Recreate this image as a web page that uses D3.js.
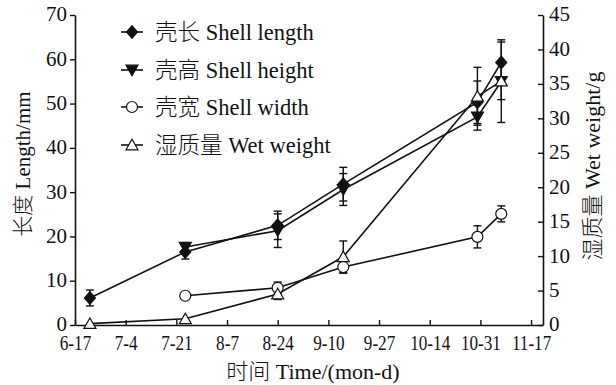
<!DOCTYPE html>
<html>
<head>
<meta charset="utf-8">
<script src="https://cdn.jsdelivr.net/npm/d3@7"></script>
<style>
  body { margin: 0; background: #fff; }
  text { font-family: 'Liberation Serif', 'Noto Sans CJK SC', serif; fill: #111; }
  tspan.zh { font-family: 'Noto Sans CJK SC', sans-serif; font-weight: 300; }
</style>
</head>
<body>
<div id="chart"></div>
<script>
// sampling dates and measurements (mean, sd)
const dates = ['2017-06-22', '2017-07-24', '2017-08-24', '2017-09-15', '2017-10-30', '2017-11-07']
const shellLength = [6.1, 16.5, 22.5, 31.8, 50.3, 59.3]
const lengthErr = [1.8, 1.6, 3.2, 3.8, 4.8, 4.6]
const shellHeight = [null, 17.6, 21.3, 30.6, 47.0, 55.0]
const heightErr = [null, 1.0, 3.8, 3.6, 3.0, 4.1]
const shellWidth = [null, 6.6, 8.4, 13.1, 19.9, 25.1]
const widthErr = [null, 0, 1.3, 1.4, 2.5, 1.8]
const wetWeight = [0.2, 0.9, 4.5, 9.9, 33.2, 35.4]
const weightErr = [0, 0, 0.8, 2.3, 4.2, 6.0]

const tickStart = '2017-06-17'
const tickStep = 17 // days
const tickCount = 10
const domainEnd = '2017-11-21'

const width = 616
const height = 385
const mLeft = 75
const mRight = 543
const mTop = 15
const mBottom = 325

const parse = d3.timeParse('%Y-%m-%d')
const fmt = d3.timeFormat('%-m-%-d')

const x = d3.scaleTime().domain([parse(tickStart), parse(domainEnd)]).range([mLeft, mRight])
const yL = d3.scaleLinear().domain([0, 70]).range([mBottom, mTop])
const yR = d3.scaleLinear().domain([0, 45]).range([mBottom, mTop])

const svg = d3.select('#chart').append('svg')
  .attr('width', width)
  .attr('height', height)

const tickVals = d3.range(tickCount).map(function (i) {
  return d3.timeDay.offset(parse(tickStart), i * tickStep)
})

// chinese part + latin part as two tspans
function label (sel, zh, en) {
  sel.append('tspan').attr('class', 'zh').text(zh)
  sel.append('tspan').text(' ' + en)
  return sel
}

// axes
const gx = svg.append('g')
  .attr('transform', 'translate(0,' + mBottom + ')')
  .call(d3.axisBottom(x).tickValues(tickVals).tickFormat(fmt)
    .tickSizeInner(-5).tickSizeOuter(0).tickPadding(9))
gx.selectAll('text')
  .attr('font-size', 22)
  .attr('transform', 'scale(0.78,1)')

const gl = svg.append('g')
  .attr('transform', 'translate(' + mLeft + ',0)')
  .call(d3.axisLeft(yL).tickValues(d3.range(0, 71, 10)).tickSizeInner(5).tickSizeOuter(0).tickPadding(3))
gl.selectAll('text').attr('font-size', 21).attr('dy', '0.28em')

const gr = svg.append('g')
  .attr('transform', 'translate(' + mRight + ',0)')
  .call(d3.axisRight(yR).tickValues(d3.range(0, 46, 5)).tickSizeInner(-5).tickSizeOuter(0).tickPadding(6))
gr.selectAll('text').attr('font-size', 21).attr('dy', '0.28em')

svg.selectAll('.domain').attr('stroke', '#111').attr('stroke-width', 1.6)
svg.selectAll('.tick line').attr('stroke', '#111').attr('stroke-width', 1.4)

// axis titles
label(svg.append('text')
  .attr('x', 313).attr('y', 379)
  .attr('text-anchor', 'middle')
  .attr('font-size', 22), '时间', 'Time/(mon-d)')

label(svg.append('text')
  .attr('transform', 'translate(30,164) rotate(-90)')
  .attr('text-anchor', 'middle')
  .attr('font-size', 21), '长度', 'Length/mm')

label(svg.append('text')
  .attr('transform', 'translate(600,166) rotate(-90)')
  .attr('text-anchor', 'middle')
  .attr('font-size', 22), '湿质量', 'Wet weight/g')

// marker shapes
function diamond (s) { return 'M0,' + (-s * 1.15) + 'L' + s + ',0L0,' + (s * 1.15) + 'L' + (-s) + ',0Z' }
function triDown (s) { return 'M' + (-s) + ',' + (-s * 0.8) + 'L' + s + ',' + (-s * 0.8) + 'L0,' + (s * 0.95) + 'Z' }
function triUp (s) { return 'M' + (-s) + ',' + (s * 0.8) + 'L' + s + ',' + (s * 0.8) + 'L0,' + (-s * 0.95) + 'Z' }
function circ (s) { return 'M' + (-s) + ',0A' + s + ',' + s + ' 0 1,0 ' + s + ',0A' + s + ',' + s + ' 0 1,0 ' + (-s) + ',0Z' }

const series = [
  { zh: '壳长', en: 'Shell length', vals: shellLength, err: lengthErr, y: yL, shape: diamond, size: 5.5, fill: '#111' },
  { zh: '壳高', en: 'Shell height', vals: shellHeight, err: heightErr, y: yL, shape: triDown, size: 6, fill: '#111' },
  { zh: '壳宽', en: 'Shell width', vals: shellWidth, err: widthErr, y: yL, shape: circ, size: 5.5, fill: '#fff' },
  { zh: '湿质量', en: 'Wet weight', vals: wetWeight, err: weightErr, y: yR, shape: triUp, size: 6, fill: '#fff' }
]

series.forEach(function (s) {
  s.pts = dates.map(function (d, i) {
    return { date: parse(d), v: s.vals[i], e: s.err[i] }
  }).filter(function (p) { return p.v != null })
})

// error bars
series.forEach(function (s) {
  const g = svg.append('g').attr('stroke', '#111').attr('stroke-width', 1.4)
  s.pts.filter(p => p.e > 0).forEach(function (p) {
    const cx = x(p.date)
    const y1 = s.y(p.v - p.e)
    const y2 = s.y(p.v + p.e)
    g.append('line').attr('x1', cx).attr('x2', cx).attr('y1', y1).attr('y2', y2)
    g.append('line').attr('x1', cx - 4).attr('x2', cx + 4).attr('y1', y1).attr('y2', y1)
    g.append('line').attr('x1', cx - 4).attr('x2', cx + 4).attr('y1', y2).attr('y2', y2)
  })
})

// lines
series.forEach(function (s) {
  const line = d3.line().x(p => x(p.date)).y(p => s.y(p.v))
  svg.append('path')
    .datum(s.pts)
    .attr('d', line)
    .attr('fill', 'none')
    .attr('stroke', '#111')
    .attr('stroke-width', 1.6)
})

// markers
series.forEach(function (s) {
  svg.append('g').selectAll('path')
    .data(s.pts)
    .enter().append('path')
    .attr('transform', p => 'translate(' + x(p.date) + ',' + s.y(p.v) + ')')
    .attr('d', s.shape(s.size))
    .attr('fill', s.fill)
    .attr('stroke', '#111')
    .attr('stroke-width', 1.2)
})

// legend
const legY = [32, 70, 107, 145]
series.forEach(function (s, i) {
  const g = svg.append('g').attr('transform', 'translate(132,' + legY[i] + ')')
  g.append('line').attr('x1', -11).attr('x2', 11).attr('stroke', '#111').attr('stroke-width', 1.6)
  g.append('path').attr('d', s.shape(s.size)).attr('fill', s.fill).attr('stroke', '#111').attr('stroke-width', 1.2)
  label(g.append('text')
    .attr('x', 23).attr('y', 0).attr('dy', '0.35em')
    .attr('font-size', 22.5), s.zh, s.en)
})
</script>
</body>
</html>
